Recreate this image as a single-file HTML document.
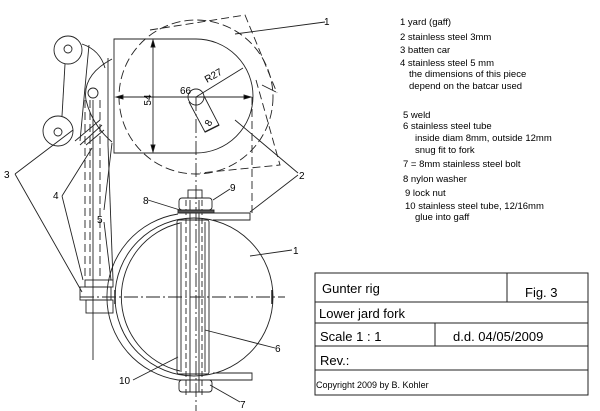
<!DOCTYPE html>
<html><head><meta charset="utf-8"><style>
html,body{margin:0;padding:0;background:#fff;}
svg{display:block;}
text{font-family:"Liberation Sans",sans-serif;fill:#000;}
</style></head><body>
<svg width="600" height="411" viewBox="0 0 600 411" xmlns="http://www.w3.org/2000/svg">
<g fill="none" stroke="#222" stroke-width="0.9">
<path d="M150,30 L245,15 L277,93" stroke-dasharray="8,4"/>
<path d="M256,80 L280,165 L200,173" stroke-dasharray="8,4"/>
<path d="M262,85 L276,92" />
<circle cx="196" cy="97" r="77" stroke-dasharray="9,4"/>
<line x1="252" y1="97" x2="252" y2="213" stroke-dasharray="8,4"/>
<path d="M114,39 L196,39 A57,57 0 0 1 196,153 L114,153 Z"/>
<circle cx="196" cy="97" r="8"/>
<path d="M189,102 L205,132 L219,125 L204,96"/>
<line x1="205" y1="132" x2="219" y2="125" stroke-width="1.5"/>
<line x1="116" y1="97" x2="251" y2="97"/>
<path d="M116,97 l7,-2 v4z M251,97 l-7,-2 v4z" fill="#000"/>
<line x1="153" y1="40" x2="153" y2="152"/>
<path d="M153,40 l-2,7 h4z M153,152 l-2,-7 h4z" fill="#000"/>
<line x1="196" y1="97" x2="243" y2="68"/>
<line x1="196" y1="97" x2="196" y2="411" stroke-dasharray="14,3,2,3"/>
<circle cx="68" cy="50" r="14"/><circle cx="68" cy="49" r="4"/>
<circle cx="58" cy="131" r="15"/><circle cx="58" cy="132" r="4"/>
<line x1="65" y1="64" x2="62" y2="116"/>
<line x1="89" y1="45" x2="80" y2="141"/>
<path d="M82,44 Q100,50 105,68"/>
<path d="M112,59 Q82,75 86,100 Q92,125 112,142"/>
<line x1="108" y1="58" x2="108" y2="145"/>
<circle cx="93" cy="93" r="5"/>
<path d="M75,141 L100,120 M80,145 L102,125 M86,145 L104,130"/>
<line x1="85" y1="100" x2="85" y2="280" stroke-dasharray="8,4"/>
<line x1="90" y1="100" x2="90" y2="280" stroke-dasharray="8,4"/>
<line x1="93" y1="100" x2="93" y2="360"/>
<line x1="100" y1="100" x2="100" y2="280" stroke-dasharray="8,4"/>
<line x1="108" y1="145" x2="113" y2="280"/>
<rect x="85" y="280" width="28" height="7"/>
<rect x="80" y="287" width="31" height="13"/>
<rect x="86" y="300" width="27" height="13"/>
<path d="M178,214 A84,84 0 0 0 178,380"/>
<circle cx="194" cy="297" r="79"/>
<path d="M180,223 A76,76 0 0 0 180,371"/>
<line x1="115" y1="290" x2="115" y2="304" stroke-width="1.5"/>
<line x1="272" y1="290" x2="272" y2="304" stroke-width="1.5"/>
<line x1="80" y1="297" x2="285" y2="297" stroke-dasharray="14,3,2,3"/>
<rect x="177" y="220" width="32" height="154" rx="2"/>
<line x1="181" y1="222" x2="181" y2="372"/>
<line x1="205" y1="222" x2="205" y2="372"/>
<line x1="186" y1="200" x2="186" y2="395" stroke-dasharray="6,3"/>
<line x1="202" y1="200" x2="202" y2="395" stroke-dasharray="6,3"/>
<line x1="190" y1="200" x2="190" y2="392"/>
<line x1="199" y1="200" x2="199" y2="392"/>
<rect x="188" y="190" width="14" height="8"/>
<rect x="179" y="198" width="33" height="12" rx="3"/>
<rect x="178" y="210" width="36" height="3" fill="#555"/>
<path d="M178,213 H250 V220 H213"/>
<path d="M213,373 H252 V380 H178"/>
<rect x="179" y="380" width="33" height="12" rx="3"/>
<path d="M235,34 L325,22"/>
<path d="M235,120 L298,173 M250,212 L298,175"/>
<path d="M15,174 L73,130 M15,174 L82,292"/>
<path d="M62,196 L92,148 M62,196 L83,280"/>
<path d="M104,210 L112,143 M104,222 L111,280"/>
<path d="M148,200 L180,210"/>
<path d="M213,200 L230,189"/>
<path d="M250,256 L292,250"/>
<path d="M205,330 L275,348"/>
<path d="M133,380 L178,357"/>
<path d="M210,385 L240,402"/>
</g>
<g font-size="10">
<text x="180" y="94">66</text>
<text x="0" y="0" transform="translate(151,100) rotate(-90)" text-anchor="middle">54</text>
<text x="0" y="0" transform="translate(207,83) rotate(-30)">R27</text>
<text x="0" y="0" transform="translate(210,127) rotate(-60)">8</text>
<text x="324" y="25">1</text>
<text x="299" y="179">2</text>
<text x="4" y="178">3</text>
<text x="53" y="199">4</text>
<text x="97" y="223">5</text>
<text x="143" y="204">8</text>
<text x="230" y="191">9</text>
<text x="293" y="254">1</text>
<text x="275" y="352">6</text>
<text x="119" y="384">10</text>
<text x="240" y="408">7</text>
</g>
<g font-size="9.5">
<text x="400" y="25">1 yard (gaff)</text>
<text x="400" y="40">2 stainless steel 3mm</text>
<text x="400" y="53">3 batten car</text>
<text x="400" y="66">4 stainless steel 5 mm</text>
<text x="409" y="77">the dimensions of this piece</text>
<text x="409" y="89">depend on the batcar used</text>
<text x="403" y="118">5 weld</text>
<text x="403" y="129">6 stainless steel tube</text>
<text x="415" y="141">inside diam 8mm, outside 12mm</text>
<text x="415" y="153">snug fit to fork</text>
<text x="403" y="167">7 = 8mm stainless steel bolt</text>
<text x="403" y="182">8 nylon washer</text>
<text x="405" y="196">9 lock nut</text>
<text x="405" y="209">10 stainless steel tube, 12/16mm</text>
<text x="415" y="220">glue into gaff</text>
</g>
<g fill="none" stroke="#222" stroke-width="1">
<rect x="315" y="273" width="273" height="122"/>
<line x1="315" y1="302" x2="588" y2="302"/>
<line x1="315" y1="323" x2="588" y2="323"/>
<line x1="315" y1="346" x2="588" y2="346"/>
<line x1="315" y1="370" x2="588" y2="370"/>
<line x1="507" y1="273" x2="507" y2="302"/>
<line x1="435" y1="323" x2="435" y2="346"/>
</g>
<g font-size="13">
<text x="322" y="293">Gunter rig</text>
<text x="525" y="297">Fig. 3</text>
<text x="319" y="318">Lower jard fork</text>
<text x="320" y="341">Scale 1 : 1</text>
<text x="453" y="341">d.d. 04/05/2009</text>
<text x="320" y="365">Rev.:</text>
</g>
<text x="316" y="388" font-size="9">Copyright 2009 by B. Kohler</text>
</svg>
</body></html>
